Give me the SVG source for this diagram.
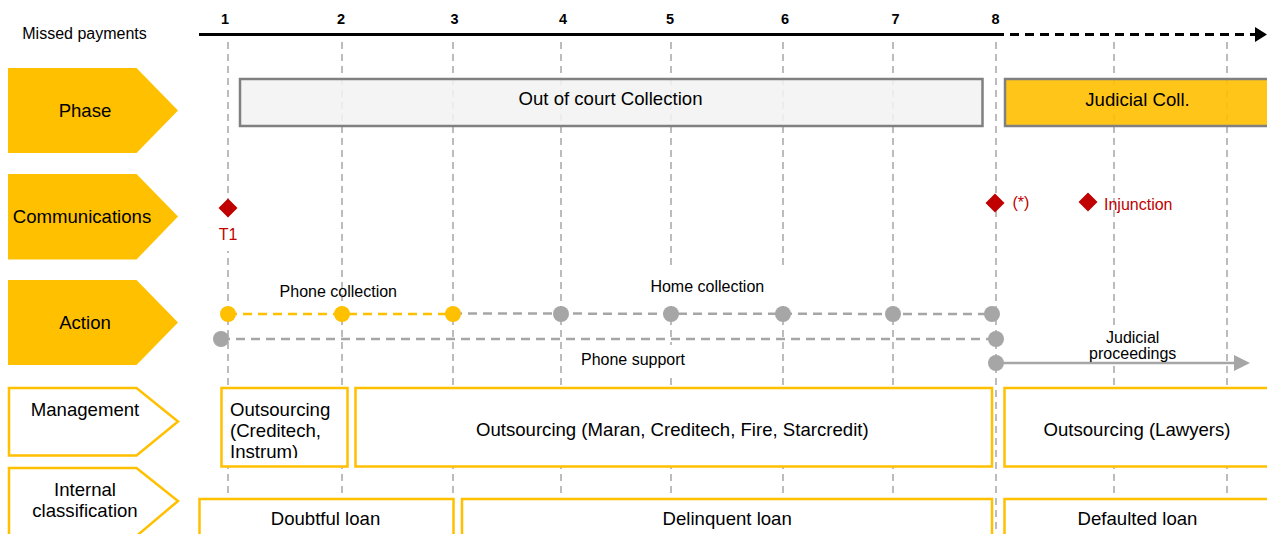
<svg xmlns="http://www.w3.org/2000/svg" width="1267" height="534" viewBox="0 0 1267 534">
<style>
text{font-family:"Liberation Sans",Arial,sans-serif;fill:#000}
.num{font-size:14.5px;font-weight:bold;text-anchor:middle}
.lbl{font-size:18.6px;text-anchor:middle}
.sm{font-size:16px;text-anchor:middle}
.red{fill:#C00000;font-size:16px}
.vl{stroke:#A6A6A6;stroke-width:1.5;stroke-dasharray:7 5;fill:none}
.tab{fill:#FFC000}
.tabo{fill:#fff;stroke:#FFC000;stroke-width:2.5}
.box{fill:#fff;stroke:#FFC000;stroke-width:2.5}
.ph{stroke:#808080;stroke-width:2.5}
.bg{fill:#fff}
.dia{fill:#C00000}
.gdot{fill:#A6A6A6}
.ydot{fill:#FFC000}
</style>
<defs>
<marker id="ablack" markerUnits="userSpaceOnUse" markerWidth="12" markerHeight="15" refX="0" refY="7.5" orient="auto"><path d="M0,0 L12,7.5 L0,15 Z" fill="#000"/></marker>
<marker id="agray" markerUnits="userSpaceOnUse" markerWidth="16" markerHeight="16" refX="0" refY="8" orient="auto"><path d="M0,0 L16,8 L0,16 Z" fill="#A6A6A6"/></marker>
<clipPath id="clipM1"><rect x="221" y="387" width="127" height="71"/></clipPath>
</defs>

<g id="gridlines">
<line class="vl" x1="228" y1="42" x2="228" y2="534"/>
<line class="vl" x1="342" y1="42" x2="342" y2="534"/>
<line class="vl" x1="453" y1="42" x2="453" y2="534"/>
<line class="vl" x1="561" y1="42" x2="561" y2="534"/>
<line class="vl" x1="671" y1="42" x2="671" y2="534"/>
<line class="vl" x1="783" y1="42" x2="783" y2="534"/>
<line class="vl" x1="893" y1="42" x2="893" y2="534"/>
<line class="vl" x1="996" y1="42" x2="996" y2="534"/>
<line class="vl" x1="1114" y1="42" x2="1114" y2="534"/>
<line class="vl" x1="1227" y1="42" x2="1227" y2="534"/>
</g>

<g id="timeline">
<text x="84.5" y="39.3" style="font-size:16px;text-anchor:middle">Missed payments</text>
<text class="num" x="225" y="23.5">1</text>
<text class="num" x="341" y="23.5">2</text>
<text class="num" x="454.5" y="23.5">3</text>
<text class="num" x="563" y="23.5">4</text>
<text class="num" x="670" y="23.5">5</text>
<text class="num" x="785" y="23.5">6</text>
<text class="num" x="895.5" y="23.5">7</text>
<text class="num" x="995.5" y="23.5">8</text>
</g>

<g id="tab-phase"><path class="tab" d="M8,68 H136.5 L178,110.5 L136.5,153 H8 Z"/><text class="lbl" x="85" y="116.5">Phase</text></g>
<g id="tab-communications"><path class="tab" d="M8,174 H136.5 L178,216.5 L136.5,259.5 H8 Z"/><text class="lbl" x="82" y="222.5">Communications</text></g>
<g id="tab-action"><path class="tab" d="M8,280 H136.5 L178,322.5 L136.5,365 H8 Z"/><text class="lbl" x="85" y="328.5">Action</text></g>
<g id="tab-management"><path class="tabo" d="M9,388 H136.5 L178,421.5 L136.5,455.5 H9 Z"/><text class="lbl" x="85" y="416">Management</text></g>
<g id="tab-classification"><path class="tabo" d="M9,468 H136.5 L178,501 L136.5,536 H9 Z"/><text class="lbl" x="85" y="495.5">Internal</text><text class="lbl" x="85" y="516.7">classification</text></g>

<g id="phase-outofcourt"><rect class="ph" x="240" y="79" width="742.5" height="47" fill="#F2F2F2" fill-opacity="0.88"/><text class="lbl" x="610.5" y="105">Out of court Collection</text></g>
<g id="phase-judicial"><rect class="ph" x="1005" y="79" width="266" height="47" fill="#FFC000" fill-opacity="0.9"/><text class="lbl" x="1137.5" y="106">Judicial Coll.</text></g>

<g id="comm-t1"><rect class="bg" x="214" y="221" width="28" height="30"/><path class="dia" d="M228,198.5 L237.5,208 L228,217.5 L218.5,208 Z"/><text class="red" x="228" y="240" text-anchor="middle">T1</text></g>
<g id="comm-star"><path class="dia" d="M995,193.5 L1004.5,203 L995,212.5 L985.5,203 Z"/><text class="red" x="1012.5" y="207.5">(*)</text></g>
<g id="comm-injunction"><path class="dia" d="M1088,192.5 L1097.5,202 L1088,211.5 L1078.5,202 Z"/><text class="red" x="1104" y="210">Injunction</text></g>

<g id="label-bgs">
<rect class="bg" x="578" y="267" width="258" height="39"/>
<rect class="bg" x="575" y="345" width="125" height="31"/>
<rect class="bg" x="1085" y="327" width="95" height="34"/>
</g>

<g id="connectors">
<line x1="199" y1="34.5" x2="995" y2="34.5" stroke="#000" stroke-width="3"/>
<line x1="995" y1="34.5" x2="1255" y2="34.5" stroke="#000" stroke-width="3" stroke-dasharray="9 6" marker-end="url(#ablack)"/>
<line x1="228" y1="314" x2="453" y2="314" stroke="#FFC000" stroke-width="2.5" stroke-dasharray="9 6"/>
<line x1="453" y1="313.5" x2="993" y2="314" stroke="#A6A6A6" stroke-width="2.5" stroke-dasharray="9 6"/>
<line x1="221" y1="339" x2="996" y2="339" stroke="#A6A6A6" stroke-width="2.5" stroke-dasharray="9 6"/>
<line x1="996" y1="363" x2="1234" y2="363" stroke="#A6A6A6" stroke-width="2.5" marker-end="url(#agray)"/>
</g>

<g id="action-dots">
<circle class="ydot" cx="228" cy="314" r="8"/>
<circle class="ydot" cx="342" cy="314" r="8"/>
<circle class="ydot" cx="453" cy="314" r="8"/>
<circle class="gdot" cx="561" cy="314" r="8"/>
<circle class="gdot" cx="671" cy="314" r="8"/>
<circle class="gdot" cx="783" cy="314" r="8"/>
<circle class="gdot" cx="893" cy="314" r="8"/>
<circle class="gdot" cx="992" cy="314" r="8"/>
<circle class="gdot" cx="221" cy="339" r="8"/>
<circle class="gdot" cx="996" cy="339" r="8"/>
<circle class="gdot" cx="996" cy="363" r="8"/>
</g>

<g id="action-labels">
<text class="sm" x="338.3" y="296.5">Phone collection</text>
<text class="sm" x="707.3" y="291.5">Home collection</text>
<text class="sm" x="633" y="364.5">Phone support</text>
<text class="sm" x="1132.7" y="342.5">Judicial</text>
<text class="sm" x="1132.7" y="359">proceedings</text>
</g>

<g id="mgmt-1"><rect class="box" x="221.5" y="388" width="126" height="78.5"/><g clip-path="url(#clipM1)"><text x="230" y="416" style="font-size:18.6px">Outsourcing</text><text x="230" y="437" style="font-size:18.6px">(Creditech,</text><text x="230" y="458" style="font-size:18.6px">Instrum)</text></g></g>
<g id="mgmt-2"><rect class="box" x="355.5" y="388" width="636.5" height="78.5"/><text class="lbl" x="672.3" y="435.5">Outsourcing (Maran, Creditech, Fire, Starcredit)</text></g>
<g id="mgmt-3"><rect class="box" x="1004.5" y="388" width="270" height="78.5"/><text class="lbl" x="1137" y="435.5">Outsourcing (Lawyers)</text></g>

<g id="class-1"><rect class="box" x="199.5" y="499" width="254" height="45"/><text class="lbl" x="325.5" y="525">Doubtful loan</text></g>
<g id="class-2"><rect class="box" x="462" y="499" width="530" height="45"/><text class="lbl" x="727.2" y="525">Delinquent loan</text></g>
<g id="class-3"><rect class="box" x="1004.5" y="499" width="270" height="45"/><text class="lbl" x="1137.5" y="525">Defaulted loan</text></g>
</svg>
